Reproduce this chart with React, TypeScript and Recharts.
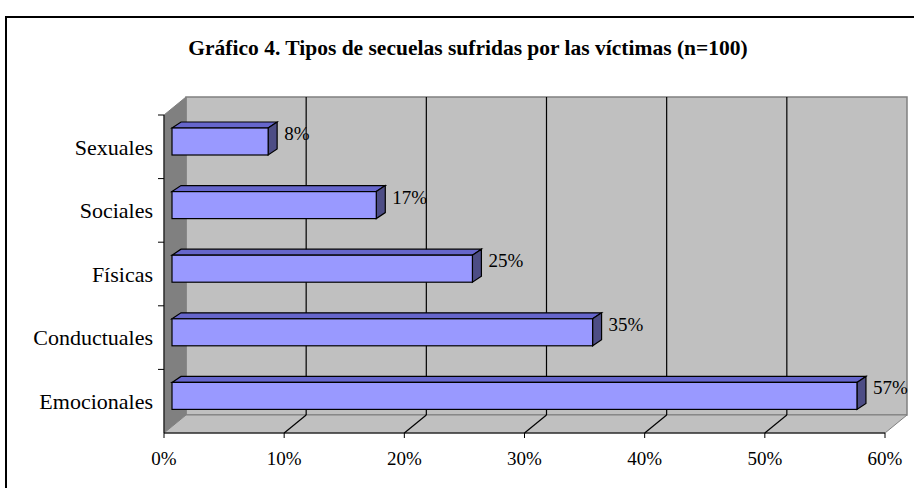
import React from 'react';
import {
  BarChart,
  Bar,
  XAxis,
  YAxis,
  ReferenceArea,
  ReferenceLine,
  LabelList
} from 'recharts';

const categories = ['Sexuales', 'Sociales', 'Físicas', 'Conductuales', 'Emocionales'];
const values = [8, 17, 25, 35, 57];
const xTicks = [0, 10, 20, 30, 40, 50, 60];
const gridTicks = [10, 20, 30, 40, 50];

const data = categories.map((name, i) => ({ name, value: values[i] }));

const FONT = '"Liberation Serif", "Times New Roman", serif';
// depth of the 3D walls
const DX = 22;
const DY = 18;
// offset / depth of bars
const BX = 8;
const BY = 5;
const BDX = 9;
const BDY = 6;

const Walls = (props: any) => {
  const { x, y, width, height } = props;
  const left = x;
  const right = x + width;
  const top = y;
  const bottom = y + height;
  const band = height / categories.length;
  return (
    <g>
      <rect x={left + DX} y={top - DY} width={width} height={height} fill="#C0C0C0" stroke="#808080" strokeWidth={1.5} />
      <polygon
        points={`${left},${top} ${left + DX},${top - DY} ${left + DX},${bottom - DY} ${left},${bottom}`}
        fill="#808080"
        stroke="#808080"
      />
      <polygon
        points={`${left},${bottom} ${left + DX},${bottom - DY} ${right + DX},${bottom - DY} ${right},${bottom}`}
        fill="#C0C0C0"
        stroke="#808080"
      />
      {categories.map((c, i) => (
        <line key={c} x1={left - 6} x2={left} y1={top + band * i} y2={top + band * i} stroke="#000" />
      ))}
    </g>
  );
};

const GridLine = (props: any) => {
  const { x1, y1, y2 } = props;
  const top = Math.min(y1, y2);
  const bottom = Math.max(y1, y2);
  return (
    <g>
      <line x1={x1 + DX} x2={x1 + DX} y1={top - DY} y2={bottom - DY} stroke="#000" strokeWidth={1.2} />
      <line x1={x1} x2={x1 + DX} y1={bottom} y2={bottom - DY} stroke="#000" strokeWidth={1.2} />
    </g>
  );
};

const Bar3D = (props: any) => {
  const { x, y, width, height } = props;
  const fx = x + BX;
  const fy = y - BY;
  return (
    <g>
      <polygon
        points={`${fx},${fy} ${fx + BDX},${fy - BDY} ${fx + width + BDX},${fy - BDY} ${fx + width},${fy}`}
        fill="#6666CC"
        stroke="#000"
        strokeWidth={1.2}
      />
      <polygon
        points={`${fx + width},${fy} ${fx + width + BDX},${fy - BDY} ${fx + width + BDX},${fy + height - BDY} ${fx + width},${fy + height}`}
        fill="#4D4D85"
        stroke="#000"
        strokeWidth={1.2}
      />
      <rect x={fx} y={fy} width={width} height={height} fill="#9999FF" stroke="#000" strokeWidth={1.2} />
    </g>
  );
};

const ValueLabel = (props: any) => {
  const { x, y, width, height, value } = props;
  return (
    <text
      x={x + width + 24}
      y={y + height / 2 - 13}
      dominantBaseline="central"
      fontFamily={FONT}
      fontSize={19}
      fill="#000"
    >
      {value}%
    </text>
  );
};

export default function App() {
  return (
    <div style={{ position: 'fixed', left: 0, top: 0, width: 914, height: 488, overflow: 'hidden', background: '#fff' }}>
      <svg width={914} height={488} style={{ position: 'absolute', left: 0, top: 0 }}>
        <rect x={6} y={17} width={1000} height={1000} fill="none" stroke="#000" strokeWidth={2} />
      </svg>
      <div
        style={{
          position: 'absolute',
          left: 0,
          top: 36,
          width: 936,
          textAlign: 'center',
          fontFamily: FONT,
          fontWeight: 'bold',
          fontSize: 21.5
        }}
      >
        Gráfico 4. Tipos de secuelas sufridas por las víctimas (n=100)
      </div>
      <div style={{ position: 'absolute', left: 0, top: 0 }}>
        <BarChart
          width={914}
          height={488}
          data={data}
          layout="vertical"
          margin={{ top: 115, right: 29, bottom: 25, left: 14 }}
        >
          <ReferenceArea x1={0} x2={60} shape={<Walls />} zIndex={-200} ifOverflow="visible" />
          {gridTicks.map((t) => (
            <ReferenceLine key={t} x={t} shape={<GridLine />} zIndex={-150} ifOverflow="visible" />
          ))}
          <XAxis
            type="number"
            domain={[0, 60]}
            ticks={xTicks}
            tickFormatter={(v) => `${v}%`}
            height={30}
            stroke="#000"
            tickSize={5}
            tickMargin={14}
            tick={{ fill: '#000', fontFamily: FONT, fontSize: 19 }}
          />
          <YAxis
            type="category"
            dataKey="name"
            width={150}
            stroke="#000"
            tickLine={false}
            tickSize={6}
            tickMargin={5}
            tick={{ fill: '#000', fontFamily: FONT, fontSize: 22 }}
          />
          <Bar dataKey="value" barSize={27} shape={<Bar3D />} isAnimationActive={false}>
            <LabelList dataKey="value" content={<ValueLabel />} />
          </Bar>
        </BarChart>
      </div>
    </div>
  );
}
